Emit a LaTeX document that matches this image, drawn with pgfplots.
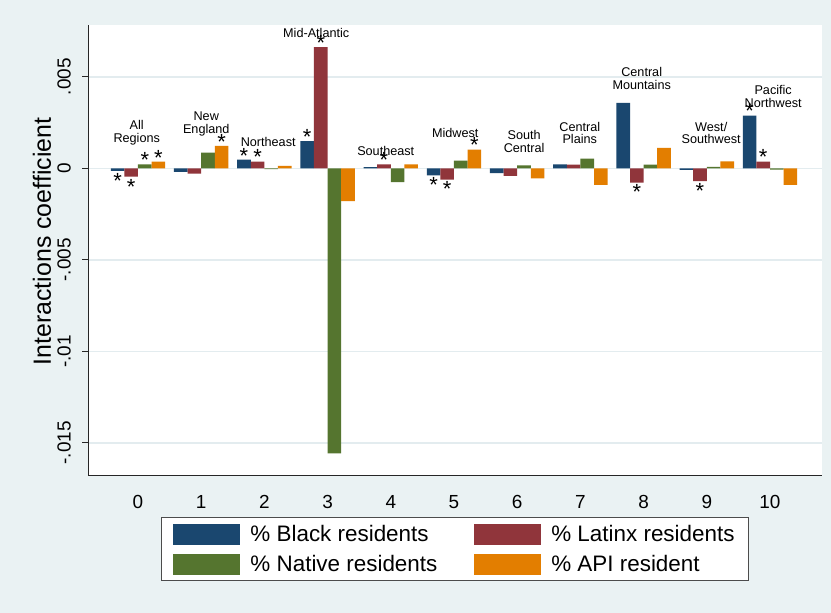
\documentclass[border=0pt]{standalone}
\usepackage{pgfplots}
\pgfplotsset{compat=1.18}
\usepackage{pgfplotstable}
\usepackage{fontspec}
\setmainfont{Liberation Sans}
\definecolor{bgc}{HTML}{EAF2F3}
\definecolor{gridc}{HTML}{E3ECEF}
\definecolor{cBlack}{HTML}{1A476F}
\definecolor{cLatinx}{HTML}{90353B}
\definecolor{cNative}{HTML}{55752F}
\definecolor{cAPI}{HTML}{E37E00}

% s: p = star above (positive bar), n = star below (negative bar), o = none
\pgfplotstableread{
x y s
0 -0.00014 n
1 -0.00019 o
2 0.00047 p
3 0.00148 p
4 0.00007 o
5 -0.00039 n
6 -0.00027 o
7 0.00021 o
8 0.00357 o
9 -0.00009 o
10 0.00288 p
}\blackdata
\pgfplotstableread{
x y s
0 -0.00046 n
1 -0.00029 o
2 0.00037 p
3 0.00662 p
4 0.00022 p
5 -0.00062 n
6 -0.00042 o
7 0.00020 o
8 -0.00078 n
9 -0.00070 n
10 0.00037 p
}\latinxdata
\pgfplotstableread{
x y s
0 0.00021 p
1 0.00086 o
2 -0.00005 o
3 -0.01557 o
4 -0.00075 o
5 0.00042 o
6 0.00016 o
7 0.00053 o
8 0.00020 o
9 0.00008 o
10 -0.00007 o
}\nativedata
\pgfplotstableread{
x y s
0 0.00036 p
1 0.00122 p
2 0.00013 o
3 -0.00179 o
4 0.00022 o
5 0.00102 p
6 -0.00055 o
7 -0.00091 o
8 0.00111 o
9 0.00038 o
10 -0.00090 o
}\apidata

\newcommand{\tickfont}{\fontsize{19}{21}\selectfont}
\newcommand{\legfont}{\fontsize{22.5}{25}\selectfont}
\newcommand{\starfont}{\fontsize{22}{22}\selectfont}
\newcommand{\regfont}{\fontsize{12.7}{13}\selectfont}
\def\starp{*}
\def\starn{\smash{\raisebox{-14.5bp}{*}}}
\def\staro{}

\pgfplotsset{
  starlabels/.style={
    point meta=explicit symbolic,
    nodes near coords={\csname star\pgfplotspointmeta\endcsname},
    every node near coord/.append style={font=\starfont, inner sep=0pt, text=black, anchor=south, yshift=-3.5bp, xshift=#1},
  },
}

\begin{document}
\begin{tikzpicture}[x=1bp,y=1bp]
\fill[bgc] (0,0) rectangle (831,613);
\begin{axis}[
  at={(88bp,137bp)}, anchor=south west,
  scale only axis, width=734bp, height=451bp,
  xmin=-0.791, xmax=10.823, ymin=-0.01681, ymax=0.00783,
  scaled y ticks=false, scaled x ticks=false,
  axis x line*=bottom, axis y line*=left,
  axis line style={line width=1bp, black!85, -},
  axis background/.style={fill=white},
  xtick={0,1,2,3,4,5,6,7,8,9,10},
  xticklabels={0,1,2,3,4,5,6,7,8,9,10},
  x tick style={draw=none},
  xticklabel style={font=\tickfont, inner sep=0pt, anchor=north},
  xticklabel shift=13bp,
  ytick={-0.015,-0.01,-0.005,0,0.005},
  yticklabels={-.015,-.01,-.005,0,.005},
  yticklabel style={font=\tickfont, rotate=90, anchor=south, inner sep=0pt},
  yticklabel shift=11bp,
  y tick style={line width=1bp, black!85},
  tick align=outside, major tick length=6bp,
  ymajorgrids, grid style={gridc, line width=1.5bp},
  every axis y label/.style={at={(axis description cs:-0.0627,0.52)}, rotate=90, anchor=center, font=\fontsize{25}{28}\selectfont},
  ylabel={Interactions coefficient},
  legend columns=2,
  legend cell align=left,
  legend style={at={(0.5,-0.0909)}, anchor=north, draw=black!70, line width=1bp, fill=white,
    inner xsep=12bp, inner ysep=6bp, font=\legfont,
    /tikz/every odd column/.append style={column sep=8bp},
    /tikz/every even column/.append style={column sep=35bp},
    row sep=8bp},
]
\addplot[ybar, bar width=13.6bp, bar shift=-20.4bp, draw=none, fill=cBlack, forget plot,
  starlabels=-20.4bp] table[x=x,y=y,meta=s] {\blackdata};
\addplot[ybar, bar width=13.6bp, bar shift=-6.8bp, draw=none, fill=cLatinx, forget plot,
  starlabels=-6.8bp] table[x=x,y=y,meta=s] {\latinxdata};
\addplot[ybar, bar width=13.6bp, bar shift=6.8bp, draw=none, fill=cNative, forget plot,
  starlabels=6.8bp] table[x=x,y=y,meta=s] {\nativedata};
\addplot[ybar, bar width=13.6bp, bar shift=20.4bp, draw=none, fill=cAPI, forget plot,
  starlabels=20.4bp] table[x=x,y=y,meta=s] {\apidata};

\addlegendimage{legend image code/.code={\fill[cBlack] (0bp,-10bp) rectangle (66bp,10bp);}}
\addlegendentry{\% Black residents}
\addlegendimage{legend image code/.code={\fill[cLatinx] (0bp,-10bp) rectangle (66bp,10bp);}}
\addlegendentry{\% Latinx residents}
\addlegendimage{legend image code/.code={\fill[cNative] (0bp,-10bp) rectangle (66bp,10bp);}}
\addlegendentry{\% Native residents}
\addlegendimage{legend image code/.code={\fill[cAPI] (0bp,-10bp) rectangle (66bp,10bp);}}
\addlegendentry{\% API resident}

\node[font=\regfont, align=center] at (axis cs:-0.02,0.00193) {All\\Regions};
\node[font=\regfont, align=center] at (axis cs:1.08,0.00242) {New\\England};
\node[font=\regfont, align=center] at (axis cs:2.06,0.00144) {Northeast};
\node[font=\regfont, align=center] at (axis cs:2.82,0.00741) {Mid-Atlantic};
\node[font=\regfont, align=center] at (axis cs:3.92,0.00095) {Southeast};
\node[font=\regfont, align=center] at (axis cs:5.02,0.00193) {Midwest};
\node[font=\regfont, align=center] at (axis cs:6.11,0.00144) {South\\Central};
\node[font=\regfont, align=center] at (axis cs:6.99,0.00193) {Central\\Plains};
\node[font=\regfont, align=center] at (axis cs:7.97,0.00493) {Central\\Mountains};
\node[font=\regfont, align=center] at (axis cs:9.07,0.00193) {West/\\Southwest};
\node[font=\regfont, align=center] at (axis cs:10.05,0.00395) {Pacific\\Northwest};
\end{axis}
\end{tikzpicture}
\end{document}
